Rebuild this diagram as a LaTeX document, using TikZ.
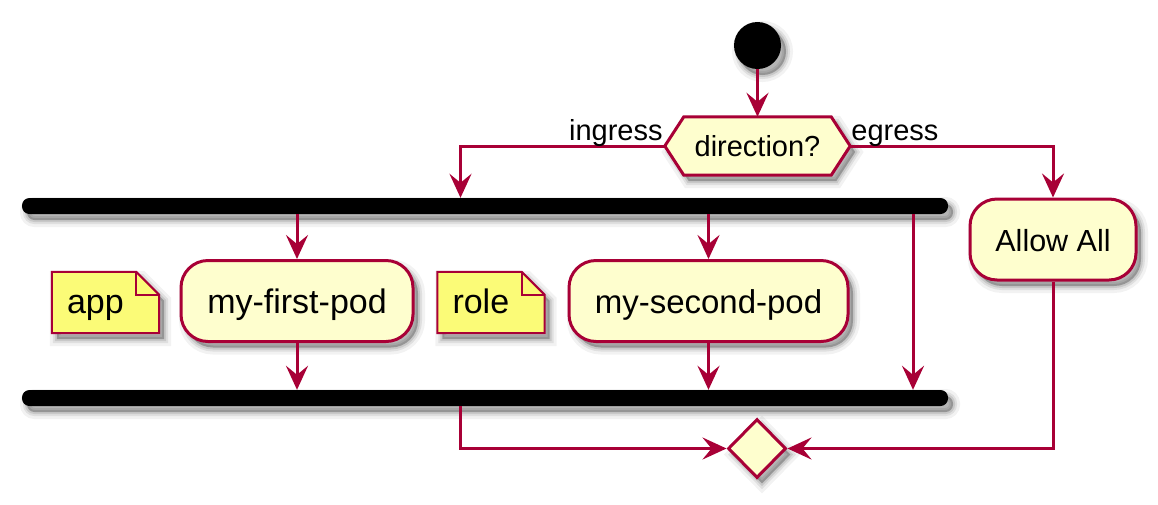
\documentclass[tikz,border=0pt]{standalone}
\usepackage{fontspec}
\setmainfont{Liberation Sans}
\usetikzlibrary{arrows.meta,shapes.geometric,calc}
\definecolor{umlline}{HTML}{A80036}
\definecolor{actfill}{HTML}{FEFECE}
\definecolor{notefill}{HTML}{FBFB77}
\newcommand\umlfs[1]{\fontsize{#1}{#1}\selectfont}
\pgfdeclarelayer{back}
\pgfdeclarelayer{bg}
\pgfsetlayers{back,bg,main}
\begin{document}
\begin{tikzpicture}[x=1pt,y=-1pt,
  shad/.style={
    preaction={draw=black,draw opacity=0.05,line width=14pt,fill=black,fill opacity=0.25,transform canvas={xshift=5pt,yshift=-6pt}},
    preaction={draw=black,draw opacity=0.08,line width=8pt,transform canvas={xshift=5pt,yshift=-6pt}},
    preaction={draw=black,draw opacity=0.1,line width=4pt,transform canvas={xshift=5pt,yshift=-6pt}}},
  act/.style={draw=umlline,line width=3pt,fill=actfill,rounded corners=27pt,minimum height=81pt,inner sep=0pt,text height=26pt,text depth=2pt,shad},
  bar/.style={fill=black,rounded corners=7.5pt,minimum width=926pt,minimum height=16pt,inner sep=0pt,shad},
  startdot/.style={circle,fill=black,minimum size=47pt,inner sep=0pt,shad},
  hextext/.style={inner sep=0pt,minimum width=185pt,minimum height=58pt,font=\umlfs{29}},
  hexshape/.style={draw=umlline,line width=3pt,fill=actfill,line join=miter,shad},
  mergebox/.style={diamond,draw=umlline,line width=3pt,fill=actfill,minimum width=58pt,minimum height=59pt,inner sep=0pt,shad},
  notebox/.style={inner xsep=15pt,inner ysep=0pt,text width=77pt,align=left,minimum height=61pt,text height=26pt,text depth=5pt,font=\umlfs{34}},
  noteshape/.style={draw=umlline,line width=2pt,fill=notefill,shad},
  arr/.style={draw=umlline,line width=3pt,-{Stealth[length=24pt,width=22pt,inset=9pt]}},
  lbl/.style={font=\umlfs{29},inner sep=0pt},
]
\useasboundingbox (0,0) rectangle (1158,504);
\begin{pgfonlayer}{back}
  \fill[white] (0,0) rectangle (1158,504);
\end{pgfonlayer}

% nodes
\node[startdot] (start) at (757.5,45.5) {};
\node[hextext] (dir) at (757.5,146) {direction?};
\node[bar] (fork) at (485,206) {};
\node[act,minimum width=166pt,font=\umlfs{30.5}] (allow) at (1053,239.5) {Allow All};
\node[act,minimum width=232pt,font=\umlfs{34}] (first) at (297,301) {my-first-pod};
\node[act,minimum width=279pt,font=\umlfs{33}] (second) at (708.5,301) {my-second-pod};
\node[notebox] (app) at (105.5,302.5) {app};
\node[notebox] (role) at (491,302.5) {role};
\node[bar] (join) at (485,398) {};
\node[mergebox] (merge) at (757,448.5) {};
\coordinate (ix) at (460.5,0);
\coordinate (px) at (913,0);

% shapes behind texts
\begin{pgfonlayer}{bg}
  \path[hexshape] (dir.west) -- ([xshift=19pt]dir.north west) -- ([xshift=-19pt]dir.north east)
     -- (dir.east) -- ([xshift=-19pt]dir.south east) -- ([xshift=19pt]dir.south west) -- cycle;
  \foreach \n in {app,role}{
    \path[noteshape] (\n.north west) -- ([xshift=-23pt]\n.north east) -- ([yshift=-23pt]\n.north east)
       -- (\n.south east) -- (\n.south west) -- cycle;
    \draw[umlline,line width=2pt] ([xshift=-23pt]\n.north east) |- ([yshift=-23pt]\n.north east);
  }
\end{pgfonlayer}

% connectors
\draw[arr] (start) -- (dir.north);
\draw[arr] (dir.west) -| (ix |- fork.north);
\draw[arr] (dir.east) -| (allow.north);
\draw[arr] (first.north |- fork.south) -- (first.north);
\draw[arr] (second.north |- fork.south) -- (second.north);
\draw[arr] (px |- fork.south) -- (px |- join.north);
\draw[arr] (first.south) -- (first.south |- join.north);
\draw[arr] (second.south) -- (second.south |- join.north);
\draw[arr] (ix |- join.south) |- (merge.west);
\draw[arr] (allow.south) |- (merge.east);

% branch labels
\node[lbl,anchor=base east] (lin) at ([xshift=-2pt,yshift=6pt]dir.west) {ingress};
\node[lbl,anchor=base west] (leg) at ([xshift=1pt,yshift=6pt]dir.east) {egress};
\end{tikzpicture}
\end{document}
